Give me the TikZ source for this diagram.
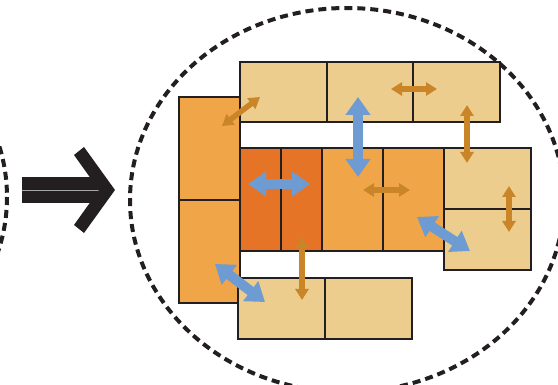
\documentclass[tikz,border=0pt]{standalone}
\usetikzlibrary{arrows.meta}
\definecolor{ink}{RGB}{35,31,32}
\definecolor{tanfill}{RGB}{236,205,142}
\definecolor{midorange}{RGB}{240,166,72}
\definecolor{darkorange}{RGB}{230,116,38}
\definecolor{flowblue}{RGB}{110,155,210}
\definecolor{flowbrown}{RGB}{202,133,40}
\tikzset{
  room/.style={draw=ink, line width=1.2pt, rectangle, inner sep=0pt, outer sep=0pt, anchor=north west},
  tanroom/.style={room, fill=tanfill},
  midroom/.style={room, fill=midorange},
  darkroom/.style={room, fill=darkorange},
  bigflow/.style={flowblue, line width=10pt,
    {Triangle[width=24pt,length=18pt]}-{Triangle[width=24pt,length=18pt]}},
  smallflow/.style={flowbrown, line width=5.5pt,
    {Triangle[width=13pt,length=11pt]}-{Triangle[width=13pt,length=11pt]}},
  zone/.style={ink, line width=4pt, dash pattern=on 8pt off 5pt}
}
\newcommand{\room}[6]{% style, name, x, y, width, height
  \node[#1, minimum width=#5pt, minimum height=#6pt] (#2) at (#3,#4) {};}
\begin{document}
\begin{tikzpicture}[x=1pt, y=-1pt]
\useasboundingbox (0,0) rectangle (558,385);

% zone outlines
\draw[zone] (-210,197) ellipse [x radius=217, y radius=192];
\draw[zone] (347,200) ellipse [x radius=217, y radius=192];

% transition arrow
\fill[ink] (22,177) rectangle (100,203);
\draw[gray!70, line width=0.6pt] (22,190) -- (100,190);
\fill[ink] (74,155) -- (84,147) -- (115,190) -- (84,233) -- (74,225) -- (99,190) -- cycle;

% top row
\room{tanroom}{t1}{240}{62}{87}{60}
\room{tanroom}{t2}{327}{62}{86}{60}
\room{tanroom}{t3}{413}{62}{87}{60}
% left column
\room{midroom}{l1}{179}{97}{61}{103}
\room{midroom}{l2}{179}{200}{61}{103}
% middle row
\room{darkroom}{m1}{240}{148}{41}{103}
\room{darkroom}{m2}{281}{148}{41}{103}
\room{midroom}{m3}{322}{148}{61}{103}
\room{midroom}{m4}{383}{148}{61}{103}
% right column
\room{tanroom}{r1}{444}{148}{87}{61}
\room{tanroom}{r2}{444}{209}{87}{61}
% bottom row
\room{tanroom}{b1}{238}{278}{87}{61}
\room{tanroom}{b2}{325}{278}{87}{61}

% flow end points
\coordinate (fa1) at (222,126); \coordinate (fa2) at (260,97);
\coordinate (fb1) at (358,97);  \coordinate (fb2) at (358,177);
\coordinate (fc1) at (248,184); \coordinate (fc2) at (310,184);
\coordinate (fd1) at (391,89);  \coordinate (fd2) at (437,89);
\coordinate (fe1) at (467,105); \coordinate (fe2) at (467,163);
\coordinate (ff1) at (363,190); \coordinate (ff2) at (410,190);
\coordinate (fg1) at (509,186); \coordinate (fg2) at (509,232);
\coordinate (fh1) at (417,217); \coordinate (fh2) at (470,251);
\coordinate (fi1) at (302,237); \coordinate (fi2) at (302,300);
\coordinate (fj1) at (215,264); \coordinate (fj2) at (265,302);

% flows
\draw[smallflow] (fa1) -- (fa2);
\draw[bigflow] (fb1) -- (fb2);
\draw[bigflow] (fc1) -- (fc2);
\draw[smallflow] (fd1) -- (fd2);
\draw[smallflow] (fe1) -- (fe2);
\draw[smallflow] (ff1) -- (ff2);
\draw[smallflow] (fg1) -- (fg2);
\draw[bigflow] (fh1) -- (fh2);
\draw[smallflow] (fi1) -- (fi2);
\draw[bigflow] (fj1) -- (fj2);
\end{tikzpicture}
\end{document}
